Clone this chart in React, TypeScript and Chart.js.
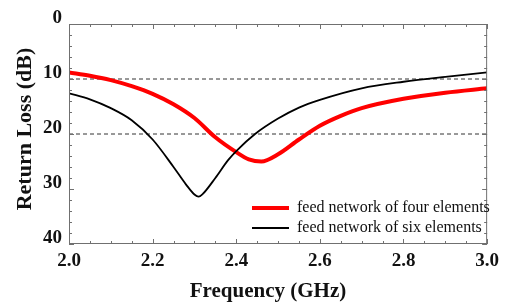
import React, { useEffect, useRef } from "react";
import { Chart, registerables } from "chart.js";

Chart.register(...registerables);

// Frequency (GHz) and return loss (dB)
const fourFreq = [2.0, 2.05, 2.1, 2.15, 2.2, 2.25, 2.3, 2.35, 2.4, 2.43, 2.46, 2.5, 2.55, 2.6, 2.65, 2.7, 2.8, 2.9, 3.0];
const fourLoss = [8.8, 9.4, 10.2, 11.3, 12.7, 14.6, 17.1, 20.6, 23.3, 24.6, 25.0, 23.7, 21.0, 18.5, 16.7, 15.3, 13.6, 12.5, 11.7];

const sixFreq = [2.0, 2.05, 2.1, 2.15, 2.2, 2.25, 2.28, 2.3, 2.31, 2.32, 2.35, 2.38, 2.4, 2.445, 2.5, 2.55, 2.6, 2.7, 2.8, 2.9, 3.0];
const sixLoss = [12.6, 13.7, 15.3, 17.5, 21.0, 26.0, 29.2, 31.0, 31.4, 30.9, 28.0, 24.8, 23.1, 20.0, 17.2, 15.2, 13.8, 11.7, 10.5, 9.6, 8.8];

const refLevels = [10, 20];
const xTicks = [2.0, 2.2, 2.4, 2.6, 2.8, 3.0];
const yTicks = [0, 10, 20, 30, 40];
const seriesLabels = ["feed network of four elements", "feed network of six elements"];
const seriesColors = ["#ff0000", "#000000"];
const seriesWidths = [4, 1.8];
const xTitle = "Frequency (GHz)";
const yTitle = "Return Loss (dB)";

const SERIF = '"Liberation Serif", "Times New Roman", serif';

const framePlugin = {
  id: "frame",
  afterDraw(chart: any) {
    const { ctx, chartArea, scales } = chart;
    const { left, right, top, bottom } = chartArea;
    const xs = scales.x;
    const ys = scales.y;
    ctx.save();
    ctx.strokeStyle = "#707070";
    ctx.lineWidth = 1;
    ctx.strokeRect(left + 0.5, top + 0.5, right - left - 1, bottom - top - 1);
    // inward ticks, all four sides
    ctx.beginPath();
    for (let i = 0; i <= 20; i++) {
      const v = xs.min + (i * (xs.max - xs.min)) / 20;
      const px = Math.round(xs.getPixelForValue(v)) + 0.5;
      const len = i % 4 === 0 ? 5 : 3;
      ctx.moveTo(px, bottom);
      ctx.lineTo(px, bottom - len);
      ctx.moveTo(px, top);
      ctx.lineTo(px, top + len);
    }
    for (let i = 0; i <= 20; i++) {
      const v = ys.min + (i * (ys.max - ys.min)) / 20;
      const py = Math.round(ys.getPixelForValue(v)) + 0.5;
      const len = i % 5 === 0 ? 5 : 3;
      ctx.moveTo(left, py);
      ctx.lineTo(left + len, py);
      ctx.moveTo(right, py);
      ctx.lineTo(right - len, py);
    }
    ctx.stroke();

    // legend inside plot
    ctx.textAlign = "left";
    ctx.textBaseline = "middle";
    ctx.font = `16px ${SERIF}`;
    const lx0 = left + 183;
    const lx1 = left + 220;
    const ly = [bottom - 36, bottom - 16];
    seriesLabels.forEach((lab, i) => {
      ctx.strokeStyle = seriesColors[i];
      ctx.lineWidth = seriesWidths[i];
      ctx.beginPath();
      ctx.moveTo(lx0, ly[i]);
      ctx.lineTo(lx1, ly[i]);
      ctx.stroke();
      ctx.fillStyle = "#111";
      ctx.fillText(lab, lx1 + 8, ly[i]);
    });

    // axis titles
    ctx.fillStyle = "#111";
    ctx.font = `bold 21px ${SERIF}`;
    ctx.textAlign = "center";
    ctx.textBaseline = "middle";
    ctx.fillText(xTitle, 268, 292);
    ctx.save();
    ctx.translate(25, 129);
    ctx.rotate(-Math.PI / 2);
    ctx.font = `bold 22px ${SERIF}`;
    ctx.fillText(yTitle, 0, 0);
    ctx.restore();
    ctx.restore();
  },
};

export default function App() {
  const ref = useRef<HTMLCanvasElement | null>(null);
  useEffect(() => {
    if (!ref.current) return;
    const tickFont = { family: SERIF, size: 19, weight: "bold" as const };
    const chart = new Chart(ref.current, {
      type: "line",
      data: {
        datasets: [
          {
            label: seriesLabels[0],
            data: fourFreq.map((f, i) => ({ x: f, y: fourLoss[i] })),
            borderColor: seriesColors[0],
            borderWidth: seriesWidths[0],
            pointRadius: 0,
            cubicInterpolationMode: "monotone",
            order: 1,
          },
          {
            label: seriesLabels[1],
            data: sixFreq.map((f, i) => ({ x: f, y: sixLoss[i] })),
            borderColor: seriesColors[1],
            borderWidth: seriesWidths[1],
            pointRadius: 0,
            cubicInterpolationMode: "monotone",
            order: 0,
          },
          ...refLevels.map((lvl) => ({
            label: `ref ${lvl}`,
            data: [
              { x: xTicks[0], y: lvl },
              { x: xTicks[xTicks.length - 1], y: lvl },
            ],
            borderColor: "#333333",
            borderWidth: 1,
            borderDash: [4, 3],
            pointRadius: 0,
            order: 3,
          })),
        ],
      },
      options: {
        responsive: false,
        animation: false,
        layout: { padding: { top: 24, right: 13, left: 0, bottom: 0 } },
        plugins: { legend: { display: false }, tooltip: { enabled: false } },
        scales: {
          x: {
            type: "linear",
            min: xTicks[0],
            max: xTicks[xTicks.length - 1],
            afterFit: (s: any) => {
              s.height = 62;
            },
            afterBuildTicks: (s: any) => {
              s.ticks = xTicks.map((v) => ({ value: v }));
            },
            grid: { display: false, drawTicks: false },
            border: { display: false },
            ticks: {
              callback: (v: any) => Number(v).toFixed(1),
              font: tickFont,
              color: "#111",
              padding: 6,
              maxRotation: 0,
              autoSkip: false,
            },
          },
          y: {
            type: "linear",
            min: yTicks[0],
            max: yTicks[yTicks.length - 1],
            reverse: true,
            afterFit: (s: any) => {
              s.width = 69;
            },
            afterBuildTicks: (s: any) => {
              s.ticks = yTicks.map((v) => ({ value: v }));
            },
            grid: { display: false, drawTicks: false },
            border: { display: false },
            ticks: {
              font: tickFont,
              color: "#111",
              padding: 7,
              labelOffset: -6,
              autoSkip: false,
            },
          },
        },
      },
      plugins: [framePlugin],
    } as any);
    return () => chart.destroy();
  }, []);
  return (
    <div style={{ position: "absolute", left: 0, top: 0, width: 505, height: 306, background: "#fff" }}>
      <canvas ref={ref} width={505} height={306} />
    </div>
  );
}
